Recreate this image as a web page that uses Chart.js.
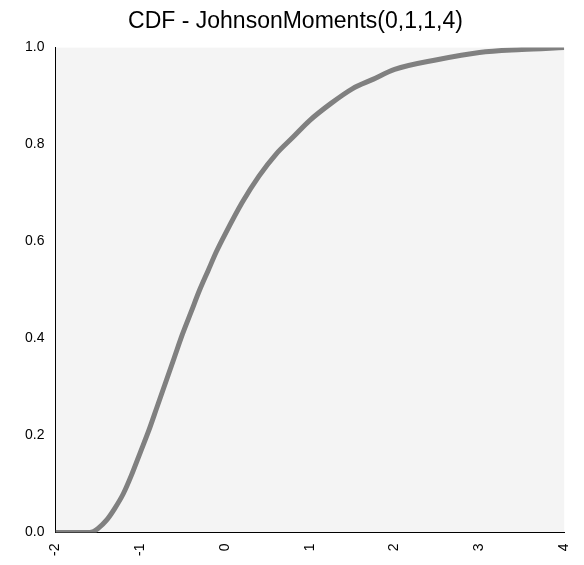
<!DOCTYPE html>
<html>
<head>
<meta charset="utf-8">
<script src="https://cdn.jsdelivr.net/npm/chart.js@4/dist/chart.umd.min.js"></script>
<style>
  html, body { margin: 0; padding: 0; background: #fff; }
  #wrap { width: 584px; height: 565px; }
</style>
</head>
<body>
<div id="wrap"><canvas id="cdf"></canvas></div>
<script>
const xValues = [-2, -1.6, -1.55, -1.5, -1.4, -1.3, -1.2, -1.1, -1.0, -0.9, -0.8, -0.7, -0.6, -0.5, -0.4, -0.3, -0.2, -0.1, 0, 0.2, 0.4, 0.6, 0.8, 1.0, 1.25, 1.5, 1.75, 2, 2.5, 3, 3.5, 4];
const cdfValues = [0, 0, 0.002, 0.008, 0.025, 0.05, 0.08, 0.12, 0.165, 0.21, 0.26, 0.31, 0.36, 0.41, 0.455, 0.5, 0.54, 0.58, 0.615, 0.68, 0.735, 0.78, 0.815, 0.85, 0.885, 0.915, 0.935, 0.955, 0.975, 0.99, 0.996, 1.0];
const xTicks = [-2, -1, 0, 1, 2, 3, 4];
const yTicks = [0, 0.2, 0.4, 0.6, 0.8, 1.0];

// plot area background
const plotBg = {
    id: 'plotBg',
    beforeDraw(chart) {
        const { ctx, chartArea: a } = chart;
        ctx.save();
        ctx.fillStyle = '#f4f4f4';
        ctx.fillRect(a.left, a.top, a.right - a.left, a.bottom - a.top);
        ctx.restore();
    }
};

new Chart(document.getElementById('cdf'), {
    type: 'line',
    data: {
        datasets: [{
            data: xValues.map((x, i) => ({ x, y: cdfValues[i] })),
            borderColor: '#808080',
            borderWidth: 5,
            pointRadius: 0,
            tension: 0.4,
            cubicInterpolationMode: 'monotone'
        }]
    },
    options: {
        responsive: true,
        maintainAspectRatio: false,
        animation: false,
        layout: { padding: { left: 22, right: 15, top: 0, bottom: 6 } },
        plugins: {
            legend: { display: false },
            tooltip: { enabled: false },
            title: {
                display: true,
                text: 'CDF - JohnsonMoments(0,1,1,4)',
                color: '#000',
                font: { family: 'Liberation Sans', size: 23, weight: 'normal' },
                padding: { top: 8, bottom: 12 }
            }
        },
        scales: {
            x: {
                type: 'linear',
                min: -2, max: 4,
                afterBuildTicks: (s) => { s.ticks = xTicks.map(v => ({ value: v })); },
                grid: { display: false, drawTicks: true },
                border: { color: '#000', width: 1 },
                ticks: {
                    color: '#000', minRotation: 90, maxRotation: 90,
                    font: { family: 'Liberation Sans', size: 14 },
                    callback: (v) => String(v)
                }
            },
            y: {
                min: 0, max: 1,
                afterBuildTicks: (s) => { s.ticks = yTicks.map(v => ({ value: v })); },
                grid: { display: false },
                border: { color: '#000', width: 1 },
                ticks: {
                    color: '#000',
                    font: { family: 'Liberation Sans', size: 14 },
                    callback: (v) => Number(v).toFixed(1)
                }
            }
        }
    },
    plugins: [plotBg]
});
</script>
</body>
</html>
